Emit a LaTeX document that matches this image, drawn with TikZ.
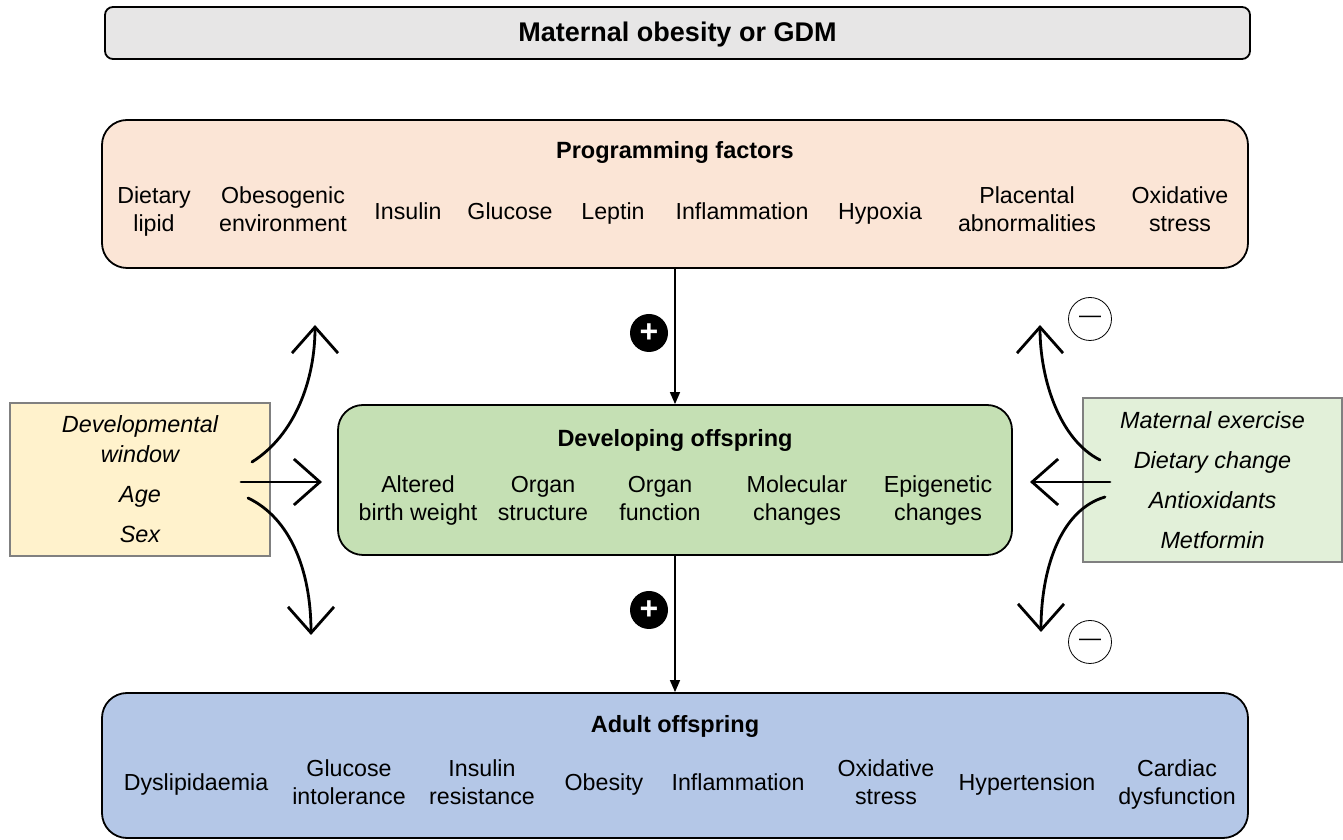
\documentclass[tikz,border=0pt]{standalone}
\usepackage{fontspec}
\setmainfont{Liberation Sans}
\usetikzlibrary{arrows.meta}
\definecolor{greybox}{HTML}{E7E6E6}
\definecolor{peach}{HTML}{FBE5D6}
\definecolor{leaf}{HTML}{C5E0B4}
\definecolor{sky}{HTML}{B4C7E7}
\definecolor{cream}{HTML}{FFF2CC}
\definecolor{mint}{HTML}{E2F0D9}
\begin{document}
\begin{tikzpicture}[x=1pt,y=1pt,
    main box/.style={draw,line width=1.8pt,rounded corners=25pt,inner sep=0pt},
    side box/.style={draw=gray,line width=1.3pt,inner sep=0pt,align=center,font=\itshape\fontsize{23.4}{30}\selectfont},
    head/.style={inner sep=0pt,font=\bfseries\fontsize{23.5}{28}\selectfont},
    item/.style={inner sep=0pt,align=center,font=\fontsize{23.2}{28}\selectfont,
        execute at begin node=\strut,execute at end node=\strut},
    flow/.style={line width=1.5pt,-{Triangle[length=12pt,width=10pt]}},
    curvearrow/.style={line width=2.8pt,line cap=round,-{Straight Barb[length=26pt,width=46pt]}},
    plus/.style={circle,fill=black,text=white,inner sep=0pt,minimum size=38pt,font=\bfseries\fontsize{32}{32}\selectfont},
    minus/.style={circle,draw,fill=white,line width=0.8pt,inner sep=0pt,minimum size=43pt,font=\fontsize{22}{22}\selectfont}]
    \useasboundingbox (0,0) rectangle (1343,840);

    % boxes
    \node[main box,rounded corners=8pt,fill=greybox,minimum width=1145pt,minimum height=52pt] at (677.5,807) (gdm) {};
    \node[main box,fill=peach,minimum width=1146pt,minimum height=148pt] at (675,646) (prog) {};
    \node[main box,fill=leaf,minimum width=674pt,minimum height=150pt] at (675,360) (dev) {};
    \node[main box,fill=sky,minimum width=1146pt,minimum height=145pt] at (675,74.5) (adult) {};
    \node[side box,fill=cream,minimum width=260pt,minimum height=153pt] at (140,360.5) (mod)
        {Developmental\\window\\[10pt]Age\\[10pt]Sex};
    \node[side box,fill=mint,minimum width=259pt,minimum height=164pt] at (1212.5,360) (treat)
        {Maternal exercise\\[10pt]Dietary change\\[10pt]Antioxidants\\[10pt]Metformin};

    % headings
    \node[head,font=\bfseries\fontsize{27}{28}\selectfont] at (677.5,805) (gdmtitle) {Maternal obesity or GDM};
    \node[head] at (675,688) (progtitle) {Programming factors};
    \node[head] at (675,400) (devtitle) {Developing offspring};
    \node[head] at (675,114) (adulttitle) {Adult offspring};

    % programming factors
    \node[item] at (154,626.3) (p1) {Dietary\\lipid};
    \node[item] at (283,626.3) (p2) {Obesogenic\\environment};
    \node[item] at (408,626.3) (p3) {Insulin};
    \node[item] at (510,626.3) (p4) {Glucose};
    \node[item] at (613,626.3) (p5) {Leptin};
    \node[item] at (742,626.3) (p6) {Inflammation};
    \node[item] at (880,626.3) (p7) {Hypoxia};
    \node[item] at (1027,626.3) (p8) {Placental\\abnormalities};
    \node[item] at (1180,626.3) (p9) {Oxidative\\stress};

    % developing offspring
    \node[item] at (418,337.3) (d1) {Altered\\birth weight};
    \node[item] at (543,337.3) (d2) {Organ\\structure};
    \node[item] at (660,337.3) (d3) {Organ\\function};
    \node[item] at (797,337.3) (d4) {Molecular\\changes};
    \node[item] at (938,337.3) (d5) {Epigenetic\\changes};

    % adult offspring
    \node[item] at (196,55) (a1) {Dyslipidaemia};
    \node[item] at (349,54) (a2) {Glucose\\intolerance};
    \node[item] at (482,54) (a3) {Insulin\\resistance};
    \node[item] at (604,55) (a4) {Obesity};
    \node[item] at (738,55) (a5) {Inflammation};
    \node[item] at (886,54) (a6) {Oxidative\\stress};
    \node[item] at (1027,55) (a7) {Hypertension};
    \node[item] at (1177,54) (a8) {Cardiac\\dysfunction};

    % main flow
    \draw[flow] (prog.south) -- (dev.north);
    \draw[flow] (dev.south) -- (adult.north);
    \node[plus] at (649,507) (plus1) {+};
    \node[plus] at (649,230) (plus2) {+};

    % modifiers
    \coordinate (ml) at (241,358);  \coordinate (mr) at (322,358);
    \coordinate (mu) at (252,378);  \coordinate (mut) at (315,515);
    \coordinate (md) at (248,342);  \coordinate (mdt) at (311,205);
    \draw[curvearrow] (ml) -- (mr);
    \draw[curvearrow] (mu) .. controls (295,405) and (315,460) .. (mut);
    \draw[curvearrow] (md) .. controls (290,322) and (311,270) .. (mdt);

    \coordinate (tr) at (1110,358); \coordinate (tl) at (1030,358);
    \coordinate (tu) at (1100,380); \coordinate (tut) at (1040,515);
    \coordinate (td) at (1105,343); \coordinate (tdt) at (1041,208);
    \draw[curvearrow] (tr) -- (tl);
    \draw[curvearrow] (tu) .. controls (1060,400) and (1040,460) .. (tut);
    \draw[curvearrow] (td) .. controls (1060,330) and (1041,270) .. (tdt);
    \node[minus] at (1090,521) (minus1) {—};
    \node[minus] at (1090,198) (minus2) {—};
\end{tikzpicture}
\end{document}
